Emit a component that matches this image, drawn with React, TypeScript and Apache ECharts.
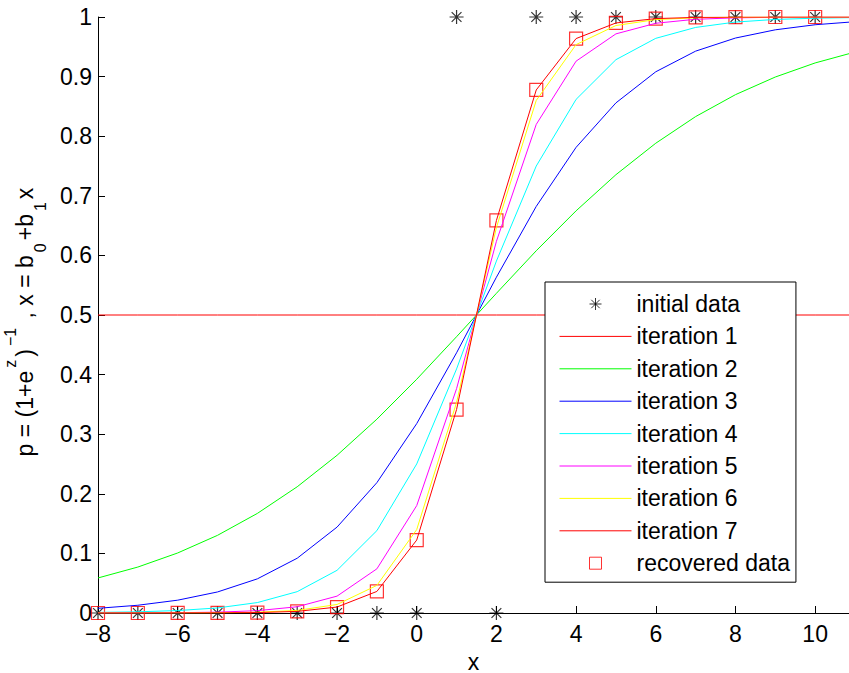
import React, { useEffect, useRef } from "react";
import * as echarts from "echarts";

const xValues = [-8, -7, -6, -5, -4, -3, -2, -1, 0, 1, 2, 3, 4, 5, 6, 7, 8, 9, 10, 11];

const iteration1 = [0.5, 0.5, 0.5, 0.5, 0.5, 0.5, 0.5, 0.5, 0.5, 0.5, 0.5, 0.5, 0.5, 0.5, 0.5, 0.5, 0.5, 0.5, 0.5, 0.5];
const iteration2 = [0.0588, 0.0771, 0.1007, 0.1303, 0.1671, 0.2118, 0.2646, 0.3252, 0.3922, 0.4636, 0.5364, 0.6078, 0.6748, 0.7354, 0.7882, 0.8329, 0.8697, 0.8993, 0.9229, 0.9412];
const iteration3 = [0.0079, 0.013, 0.0215, 0.0353, 0.0573, 0.0919, 0.1441, 0.2187, 0.3178, 0.4366, 0.5634, 0.6822, 0.7813, 0.8559, 0.9081, 0.9427, 0.9647, 0.9785, 0.987, 0.9921];
const iteration4 = [0.001, 0.002, 0.0041, 0.0085, 0.0175, 0.0358, 0.0716, 0.1382, 0.2501, 0.4095, 0.5905, 0.7499, 0.8618, 0.9284, 0.9642, 0.9825, 0.9915, 0.9959, 0.998, 0.999];
const iteration5 = [0.0001, 0.0002, 0.0005, 0.0014, 0.0039, 0.0105, 0.0283, 0.0741, 0.1802, 0.3764, 0.6236, 0.8198, 0.9259, 0.9717, 0.9895, 0.9962, 0.9986, 0.9995, 0.9998, 0.9999];
const iteration6 = [0.0, 0.0, 0.0001, 0.0004, 0.0013, 0.0043, 0.0143, 0.0463, 0.14, 0.3532, 0.6468, 0.86, 0.9537, 0.9857, 0.9957, 0.9987, 0.9996, 0.9999, 1.0, 1.0];
const iteration7 = [0.0, 0.0, 0.0001, 0.0002, 0.0007, 0.0027, 0.01, 0.0362, 0.1224, 0.3414, 0.6586, 0.8776, 0.9638, 0.99, 0.9973, 0.9993, 0.9998, 1.0, 1.0, 1.0];

const initialX = [-8, -7, -6, -5, -4, -3, -2, -1, 0, 1, 2, 3, 4, 5, 6, 7, 8, 9, 10];
const initialY = [0, 0, 0, 0, 0, 0, 0, 0, 0, 1, 0, 1, 1, 1, 1, 1, 1, 1, 1];

const recoveredX = [-8, -7, -6, -5, -4, -3, -2, -1, 0, 1, 2, 3, 4, 5, 6, 7, 8, 9, 10];
const recoveredY = [0.0, 0.0, 0.0001, 0.0002, 0.0007, 0.0027, 0.01, 0.0362, 0.1224, 0.3414, 0.6586, 0.8776, 0.9638, 0.99, 0.9973, 0.9993, 0.9998, 1.0, 1.0];

const iterationNames = ["iteration 1", "iteration 2", "iteration 3", "iteration 4", "iteration 5", "iteration 6", "iteration 7"];
const iterationColors = ["#ff0000", "#00ff00", "#0000ff", "#00ffff", "#ff00ff", "#ffff00", "#ff0000"];
const iterationValues = [iteration1, iteration2, iteration3, iteration4, iteration5, iteration6, iteration7];

const xTicks = { min: -8, max: 10.85, interval: 2 };
const yTicks = { min: 0, max: 1, interval: 0.1 };

const FONT = "'Liberation Sans', Arial, Helvetica, sans-serif";
const STAR = "path://M0 5 L10 5 M5 0 L5 10 M1.5 1.5 L8.5 8.5 M8.5 1.5 L1.5 8.5";
const SQUARE = "path://M0 0 L10 0 L10 10 L0 10 Z";

export default function App() {
  const ref = useRef<HTMLDivElement>(null);
  useEffect(() => {
    document.body.style.margin = "0";
    if (!ref.current) return;
    const chart = echarts.init(ref.current, null, { renderer: "svg" });
    const lineSeries = iterationNames.map((name, i) => ({
      name,
      type: "line",
      data: xValues.map((x, j) => [x, iterationValues[i][j]]),
      symbol: "none",
      lineStyle: { color: iterationColors[i], width: 1 },
      itemStyle: { color: iterationColors[i] },
      clip: true,
    }));
    chart.setOption({
      animation: false,
      backgroundColor: "#fff",
      grid: { left: 98, right: 0, top: 17, bottom: 60, containLabel: false, outerBoundsMode: "none" },
      xAxis: {
        type: "value",
        min: xTicks.min,
        max: xTicks.max,
        interval: xTicks.interval,
        name: "x",
        nameLocation: "middle",
        nameGap: 37,
        nameTextStyle: { fontFamily: FONT, fontSize: 23, color: "#000" },
        axisLine: { show: true, onZero: false, lineStyle: { color: "#000", width: 1 } },
        axisTick: { show: true, inside: true, length: 7, lineStyle: { color: "#000" } },
        axisLabel: {
          show: true,
          margin: 9,
          fontFamily: FONT,
          fontSize: 23,
          color: "#000",
          showMaxLabel: false,
          formatter: (v: number) => (Number.isInteger(v) ? String(v).replace("-", "\u2212") : ""),
        },
        splitLine: { show: false },
      },
      yAxis: {
        type: "value",
        min: yTicks.min,
        max: yTicks.max,
        interval: yTicks.interval,
        name: "{n|p = (1+e}{sup|z}{n|)}{sup|\u22121}{n| , x = b}{sub|0}{n|+b}{sub|1}{end|x}",
        nameLocation: "middle",
        nameGap: 50,
        nameTextStyle: {
          fontFamily: FONT,
          fontSize: 23,
          color: "#000",
          rich: {
            n: { fontFamily: FONT, fontSize: 23, lineHeight: 46, color: "#000" },
            end: { fontFamily: FONT, fontSize: 23, lineHeight: 46, color: "#000", padding: [0, 14, 0, 0] },
            sup: { fontFamily: FONT, fontSize: 16, lineHeight: 13, verticalAlign: "top", color: "#000", padding: [0, 3, 0, 3] },
            sub: { fontFamily: FONT, fontSize: 16, lineHeight: 25, verticalAlign: "bottom", color: "#000", padding: [0, 3, 0, 3] },
          },
        },
        axisLine: { show: true, onZero: false, lineStyle: { color: "#000", width: 1 } },
        axisTick: { show: true, inside: true, length: 7, lineStyle: { color: "#000" } },
        axisLabel: {
          show: true,
          margin: 6,
          fontFamily: FONT,
          fontSize: 23,
          color: "#000",
          formatter: (v: number) => String(Math.round(v * 10) / 10),
        },
        splitLine: { show: false },
      },
      legend: {
        show: true,
        orient: "vertical",
        left: 545,
        top: 282,
        backgroundColor: "#fff",
        borderColor: "#000",
        borderWidth: 1,
        padding: [10.5, 6, 7.5, 14],
        itemWidth: 72,
        itemHeight: 12,
        itemGap: 9.4,
        selectedMode: false,
        textStyle: { fontFamily: FONT, fontSize: 23, lineHeight: 23, color: "#000" },
        itemStyle: { borderWidth: 1 },
        lineStyle: { width: 1 },
        data: [
          "initial data",
          ...iterationNames.map((name) => ({
            name,
            itemStyle: { color: "rgba(0,0,0,0)", borderColor: "rgba(0,0,0,0)", borderWidth: 0, opacity: 0 },
          })),
          "recovered data",
        ],
      },
      series: [
        {
          name: "initial data",
          type: "scatter",
          data: initialX.map((x, i) => [x, initialY[i]]),
          symbol: STAR,
          symbolSize: 14,
          symbolKeepAspect: true,
          itemStyle: { color: "#000", borderColor: "#000", borderWidth: 1.2 },
          clip: false,
        },
        ...lineSeries,
        {
          name: "recovered data",
          type: "scatter",
          data: recoveredX.map((x, i) => [x, recoveredY[i]]),
          symbol: SQUARE,
          symbolSize: 13,
          symbolKeepAspect: true,
          itemStyle: { color: "rgba(0,0,0,0)", borderColor: "#ff0000", borderWidth: 1.2 },
          clip: false,
        },
      ],
    });
    return () => chart.dispose();
  }, []);
  return <div ref={ref} style={{ width: 849, height: 673 }} />;
}
